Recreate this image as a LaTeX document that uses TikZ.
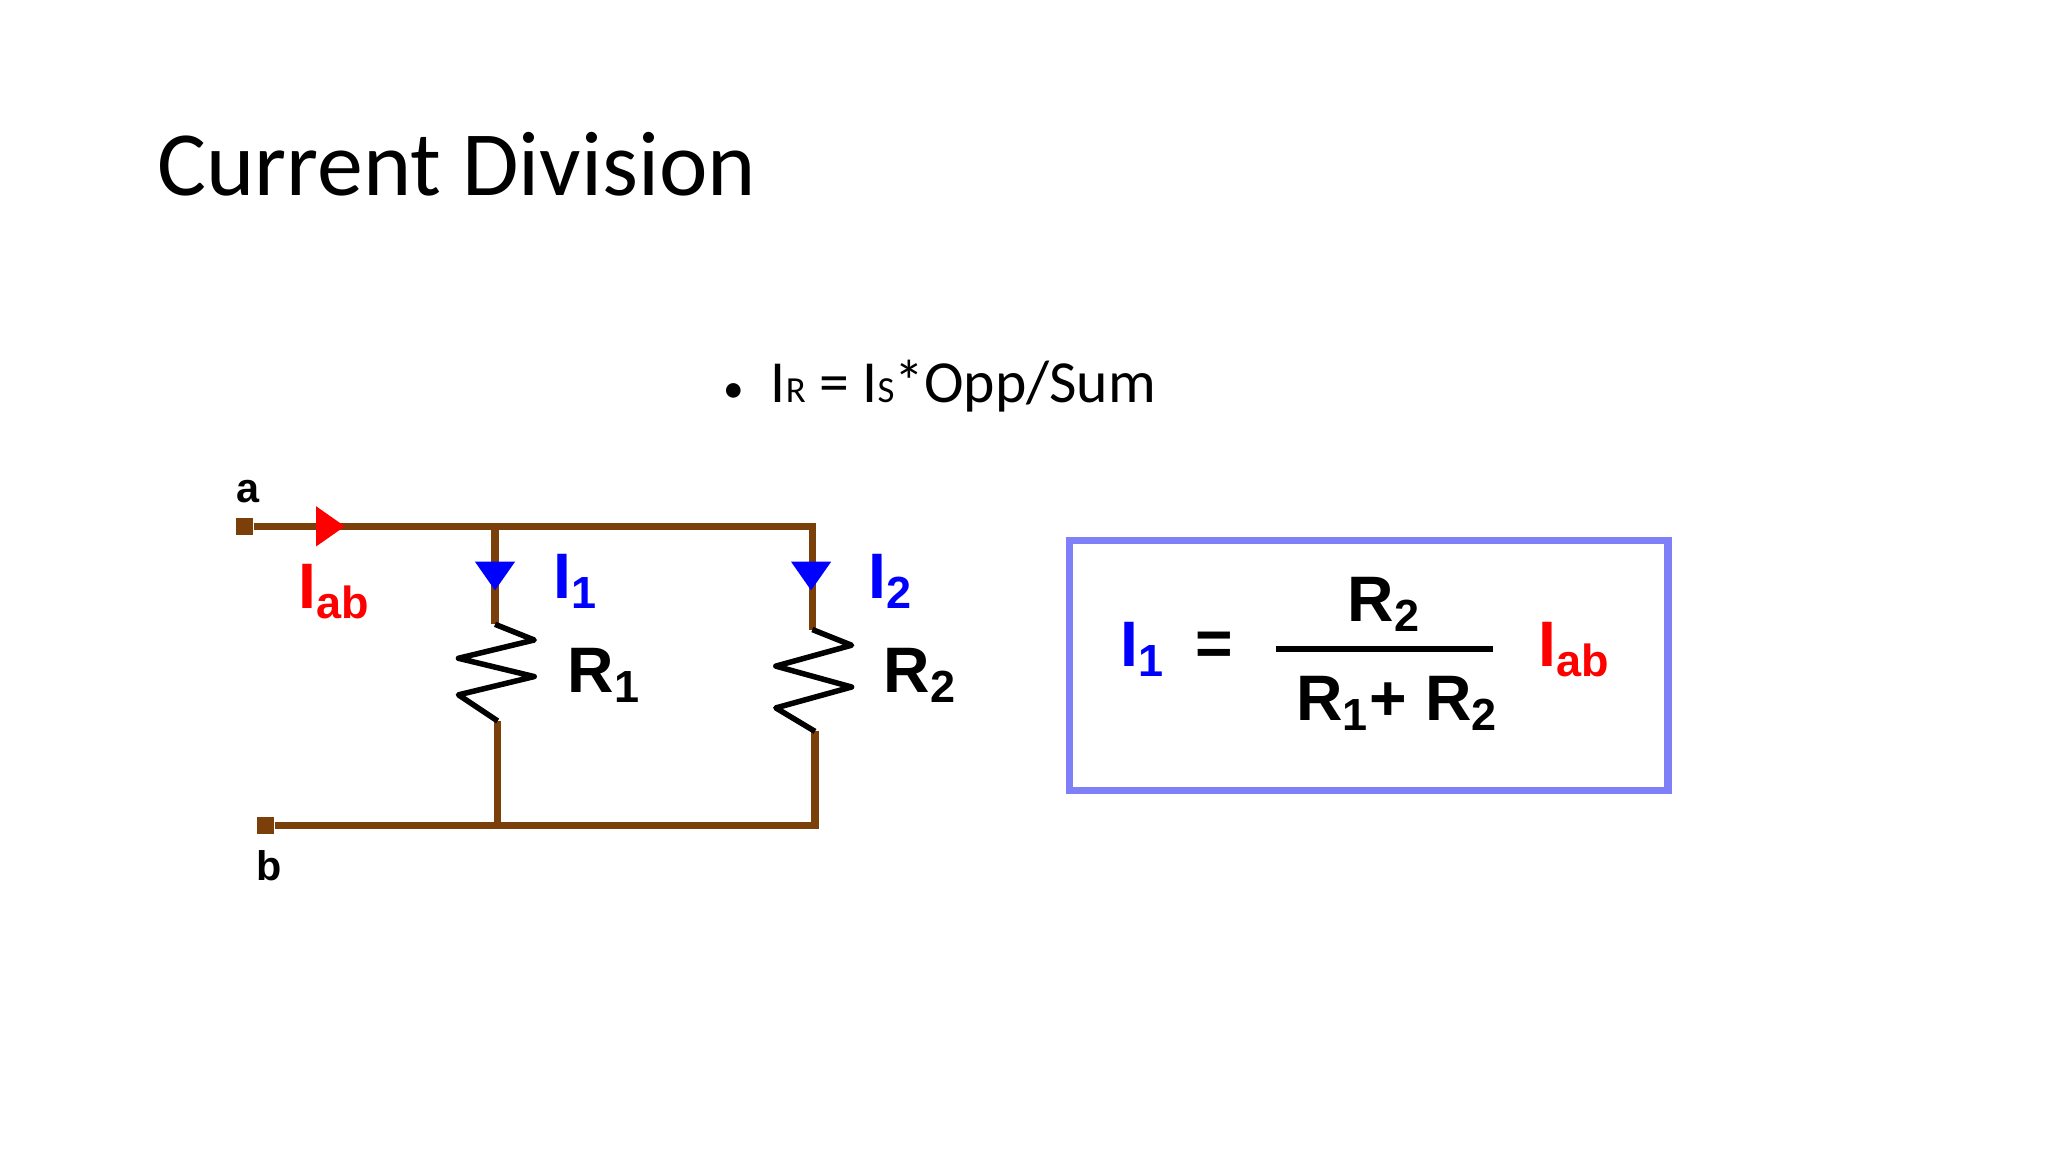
\documentclass[tikz,border=0pt]{standalone}
\usepackage{fontspec}
\setmainfont{Carlito}
\newfontfamily\lab{Liberation Sans}
\usetikzlibrary{positioning}
\definecolor{wire}{RGB}{123,63,10}
\definecolor{boxc}{RGB}{127,127,247}
\tikzset{
  w/.style={draw=wire,line width=1.6pt},
  zz/.style={line width=1.2pt,line join=round},
  term/.style={fill=wire,minimum size=0.13cm,inner sep=0pt},
  lbl/.style={font=\lab\bfseries\fontsize{14}{14}\selectfont,inner sep=0pt},
  tri/.style={inner sep=0pt,minimum size=0.22cm,isosceles triangle,isosceles triangle apex angle=70}
}
\usetikzlibrary{shapes.geometric}
\begin{document}
\begin{tikzpicture}[x=0.01cm,y=-0.01cm]
\useasboundingbox (0,0) rectangle (1568,882);
\node[anchor=base west,font=\fontsize{20}{20}\selectfont,inner sep=0pt] (title) at (120,150) {Current Division};
\node[anchor=base west,font=\fontsize{13}{13}\selectfont,inner sep=0pt] (rule) at (553,308) {{\small\textbullet}\ \ I{\footnotesize R} = I{\footnotesize S}*Opp/Sum};
% terminals and nodes
\node[term] (a) at (187,403) {};
\node[term] (b) at (203,632) {};
\coordinate (t1) at (379,403);
\coordinate (t2) at (622,403);
\coordinate (b1) at (381,632);
\coordinate (b2) at (624,632);
\coordinate (r1t) at (379,478);
\coordinate (r1b) at (381,552);
\coordinate (r2t) at (622,482);
\coordinate (r2b) at (624,560);
% wires
\draw[w] (a) -- (t2) -- (r2t);
\draw[w] (t1) -- (r1t);
\draw[w] (b) -- (b2) -- (r2b);
\draw[w] (b1) -- (r1b);
% resistors
\draw[zz] (r1t) -- ++(30,12) -- ++(-58,14) -- ++(58,14) -- ++(-58,14) -- ++(30,20);
\draw[zz] (r2t) -- ++(30,12) -- ++(-58,16) -- ++(58,16) -- ++(-58,16) -- ++(30,18);
% arrows
\node[tri,fill=red,shape border rotate=0] (aab) at (250,403) {};
\node[tri,fill=blue,shape border rotate=-90] (a1) at (379,438) {};
\node[tri,fill=blue,shape border rotate=-90] (a2) at (621,438) {};
% labels
\node[lbl,font=\lab\bfseries\small] (la) at (190,376) {a};
\node[lbl,font=\lab\bfseries\small] (lb) at (206,663) {b};
\node[lbl,text=red,anchor=base west] (iab) at (228,466) {I\textsubscript{ab}};
\node[lbl,text=blue,anchor=base west] (i1) at (423,458) {I\textsubscript{1}};
\node[lbl,text=blue,anchor=base west] (i2) at (664,458) {I\textsubscript{2}};
\node[lbl,anchor=base west] (rr1) at (434,530) {R\textsubscript{1}};
\node[lbl,anchor=base west] (rr2) at (676,530) {R\textsubscript{2}};
% formula box
\draw[boxc,line width=1.6pt] (819,414) rectangle (1277,605);
\node[lbl,text=blue,anchor=base west] (f1) at (857,510) {I\textsubscript{1}};
\node[lbl] (eq) at (930,497) {=};
\node[lbl,anchor=base] (num) at (1060,476) {R\textsubscript{2}};
\draw[line width=1.4pt] (977,497) -- (1143,497);
\node[lbl,anchor=base] (den) at (1070,552) {R\textsubscript{1}+ R\textsubscript{2}};
\node[lbl,text=red,anchor=base west] (fab) at (1177,510) {I\textsubscript{ab}};
\end{tikzpicture}
\end{document}
